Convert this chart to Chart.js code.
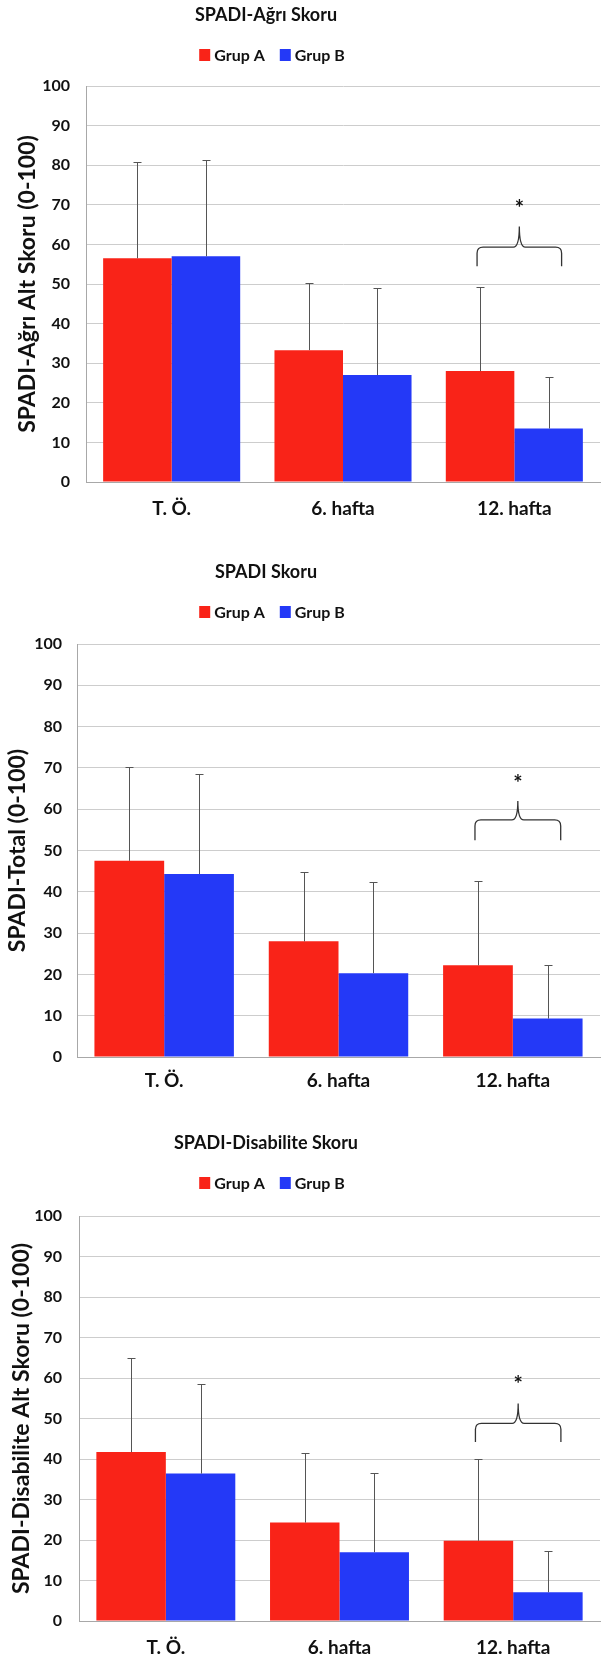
<!DOCTYPE html>
<html>
<head>
<meta charset="utf-8">
<script src="https://cdn.jsdelivr.net/npm/chart.js@4.4.0/dist/chart.umd.min.js"></script>
<style>
  body { margin: 0; background: #fff; width: 601px; height: 1664px; overflow: hidden; }
  .box { position: absolute; left: 0; width: 601px; }
</style>
</head>
<body>
<div class="box" style="top:0;height:530px"><canvas id="c1"></canvas></div>
<div class="box" style="top:530px;height:570px"><canvas id="c2"></canvas></div>
<div class="box" style="top:1100px;height:564px"><canvas id="c3"></canvas></div>
<script>
// ==== Data ====
const categories = ["T. Ö.", "6. hafta", "12. hafta"];
const groupNames = ["Grup A", "Grup B"];
const yTicks = [0, 10, 20, 30, 40, 50, 60, 70, 80, 90, 100];

// SPADI-Ağrı (mean and mean+SD)
const agriA = [56.5, 33.3, 28.0];
const agriB = [57.0, 27.0, 13.5];
const agriAErr = [80.7, 50.3, 49.2];
const agriBErr = [81.3, 49.0, 26.5];

// SPADI total
const totalA = [47.5, 28.0, 22.2];
const totalB = [44.3, 20.3, 9.3];
const totalAErr = [70.2, 44.7, 42.5];
const totalBErr = [68.5, 42.3, 22.2];

// SPADI-Disabilite
const disA = [41.7, 24.3, 19.8];
const disB = [36.4, 17.0, 7.1];
const disAErr = [64.9, 41.5, 39.9];
const disBErr = [58.5, 36.5, 17.4];

// significance brace levels at 12. hafta: [ends, line, peak, star]
const agriBrace = [54.5, 59.3, 64.5, 70.3];
const totalBrace = [52.5, 57.4, 62.0, 67.3];
const disBrace = [44.2, 48.8, 53.7, 59.5];

const colors = ["#F92318", "#2439F7"];
const FONT = "Lato, 'Open Sans', sans-serif";

// ==== Plugins ====
// title + legend, centred a bit left of the canvas like the original
const header = {
  id: "header",
  afterDraw(chart, args, o) {
    const ctx = chart.ctx;
    ctx.save();
    ctx.fillStyle = "#111";
    ctx.textBaseline = "middle";
    ctx.textAlign = "center";
    ctx.font = "bold 18px " + FONT;
    ctx.fillText(o.title, o.cx, o.titleY);

    ctx.font = "bold 16px " + FONT;
    const items = chart.data.datasets.map((ds) => ({
      label: ds.label,
      color: ds.backgroundColor,
      w: ctx.measureText(ds.label).width
    }));
    const box = 11, gap = 4, sep = 15;
    let total = 0;
    items.forEach((it, i) => (total += box + gap + it.w + (i ? sep : 0)));
    let x = o.cx + 6 - total / 2;
    ctx.textAlign = "left";
    items.forEach((it, i) => {
      if (i) x += sep;
      ctx.fillStyle = it.color;
      ctx.fillRect(x, o.legendY - 6, box, 12);
      x += box + gap;
      ctx.fillStyle = "#111";
      ctx.fillText(it.label, x, o.legendY + 1);
      x += it.w;
    });
    ctx.restore();
  }
};

const errorBars = {
  id: "errorBars",
  afterDatasetsDraw(chart) {
    const ctx = chart.ctx;
    const y = chart.scales.y;
    ctx.save();
    ctx.strokeStyle = "#555";
    ctx.lineWidth = 1;
    chart.data.datasets.forEach((ds, i) => {
      chart.getDatasetMeta(i).data.forEach((bar, j) => {
        const top = Math.round(y.getPixelForValue(ds.errTop[j])) + 0.5;
        const x = Math.round(bar.x) + 0.5;
        ctx.beginPath();
        ctx.moveTo(x, bar.y);
        ctx.lineTo(x, top);
        ctx.moveTo(x - 4, top);
        ctx.lineTo(x + 4, top);
        ctx.stroke();
      });
    });
    ctx.restore();
  }
};

const brace = {
  id: "brace",
  afterDatasetsDraw(chart, args, o) {
    const ctx = chart.ctx;
    const y = chart.scales.y;
    const a = chart.getDatasetMeta(0).data[o.index];
    const b = chart.getDatasetMeta(1).data[o.index];
    const xL = a.x - 3, xR = b.x + 13, xc = (xL + xR) / 2;
    const yb = y.getPixelForValue(o.levels[0]);
    const ym = y.getPixelForValue(o.levels[1]);
    const yp = y.getPixelForValue(o.levels[2]);
    const r = 6;
    ctx.save();
    ctx.strokeStyle = "#333";
    ctx.lineWidth = 1.3;
    ctx.beginPath();
    ctx.moveTo(xL, yb);
    ctx.lineTo(xL, ym + r);
    ctx.quadraticCurveTo(xL, ym, xL + r, ym);
    ctx.lineTo(xc - r, ym);
    ctx.quadraticCurveTo(xc, ym, xc, yp);
    ctx.quadraticCurveTo(xc, ym, xc + r, ym);
    ctx.lineTo(xR - r, ym);
    ctx.quadraticCurveTo(xR, ym, xR, ym + r);
    ctx.lineTo(xR, yb);
    ctx.stroke();
    ctx.fillStyle = "#111";
    ctx.font = "bold 22px " + FONT;
    ctx.textAlign = "center";
    ctx.textBaseline = "middle";
    ctx.fillText("*", xc, y.getPixelForValue(o.levels[3]) + 5);
    ctx.restore();
  }
};

// ==== Chart builder ====
function makeChart(id, cfg) {
  return new Chart(document.getElementById(id), {
    type: "bar",
    data: {
      labels: categories,
      datasets: [
        { label: groupNames[0], data: cfg.a, errTop: cfg.aErr, backgroundColor: colors[0] },
        { label: groupNames[1], data: cfg.b, errTop: cfg.bErr, backgroundColor: colors[1] }
      ]
    },
    options: {
      responsive: true,
      maintainAspectRatio: false,
      animation: false,
      layout: { padding: { top: cfg.top, bottom: cfg.bottom, left: 0, right: 1 } },
      datasets: { bar: { categoryPercentage: 0.8, barPercentage: 1 } },
      plugins: {
        legend: { display: false },
        title: { display: false },
        tooltip: { enabled: false },
        header: { title: cfg.title, cx: 266, titleY: cfg.titleY, legendY: cfg.legendY },
        brace: { index: 2, levels: cfg.brace }
      },
      scales: {
        x: {
          afterFit: (s) => (s.height = 36),
          grid: { display: false, drawTicks: false },
          border: { display: true, color: "#A8A8A8" },
          ticks: { color: "#111", padding: cfg.xPad, font: { family: FONT, size: 19, weight: "bold" } }
        },
        y: {
          min: 0,
          max: 100,
          afterBuildTicks: (s) => (s.ticks = yTicks.map((v) => ({ value: v }))),
          afterFit: (s) => (s.width = cfg.axisX),
          grid: { color: "#CDCDCD", drawTicks: false },
          border: { display: true, color: "#A8A8A8" },
          ticks: { color: "#111", padding: cfg.yPad, font: { family: FONT, size: 16, weight: "bold" } },
          title: {
            display: true,
            text: cfg.yTitle,
            color: "#111",
            padding: { top: cfg.yTitlePad, bottom: 0 },
            font: { family: FONT, size: 23, weight: "bold" }
          }
        }
      }
    },
    plugins: [header, errorBars, brace]
  });
}

makeChart("c1", {
  title: "SPADI-Ağrı Skoru", titleY: 15, legendY: 55,
  yTitle: "SPADI-Ağrı Alt Skoru (0-100)",
  a: agriA, b: agriB, aErr: agriAErr, bErr: agriBErr, brace: agriBrace,
  top: 86, bottom: 12, axisX: 86, yPad: 16, yTitlePad: 14, xPad: 15
});

makeChart("c2", {
  title: "SPADI Skoru", titleY: 42, legendY: 82,
  yTitle: "SPADI-Total (0-100)",
  a: totalA, b: totalB, aErr: totalAErr, bErr: totalBErr, brace: totalBrace,
  top: 114, bottom: 7, axisX: 77, yPad: 15, yTitlePad: 4, xPad: 12
});

makeChart("c3", {
  title: "SPADI-Disabilite Skoru", titleY: 43, legendY: 83,
  yTitle: "SPADI-Disabilite Alt Skoru (0-100)",
  a: disA, b: disB, aErr: disAErr, bErr: disBErr, brace: disBrace,
  top: 116, bottom: 7, axisX: 79, yPad: 17, yTitlePad: 8, xPad: 15
});
</script>
</body>
</html>
